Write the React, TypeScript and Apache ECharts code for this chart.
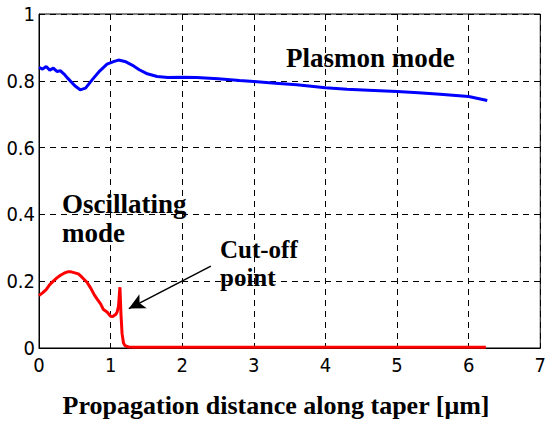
import React, { useEffect, useRef } from "react";
import * as echarts from "echarts";

const xTicks = [0, 1, 2, 3, 4, 5, 6, 7];
const yTicks = [0, 0.2, 0.4, 0.6, 0.8, 1];

const plasmonX = [0, 0.05, 0.1, 0.15, 0.2, 0.25, 0.3, 0.35, 0.4, 0.5, 0.575, 0.65, 0.75, 0.85, 0.95, 1.05, 1.11, 1.2, 1.3, 1.4, 1.5, 1.65, 1.8, 2.0, 2.2, 2.5, 2.8, 3.0, 3.3, 3.6, 4.0, 4.3, 4.6, 5.0, 5.3, 5.6, 6.0, 6.26];
const plasmonY = [0.84, 0.835, 0.843, 0.832, 0.838, 0.828, 0.83, 0.82, 0.808, 0.785, 0.773, 0.778, 0.805, 0.83, 0.85, 0.858, 0.862, 0.858, 0.847, 0.833, 0.822, 0.813, 0.81, 0.811, 0.81, 0.806, 0.801, 0.798, 0.793, 0.788, 0.779, 0.775, 0.772, 0.768, 0.764, 0.76, 0.753, 0.741];

const oscX = [0, 0.05, 0.1, 0.15, 0.2, 0.25, 0.3, 0.35, 0.4, 0.45, 0.5, 0.55, 0.6, 0.67, 0.72, 0.77, 0.81, 0.86, 0.9, 0.95, 1.0, 1.03, 1.07, 1.09, 1.11, 1.13, 1.145, 1.16, 1.18, 1.2, 1.25, 1.35, 2, 3, 4, 5, 6, 6.24];
const oscY = [0.157, 0.165, 0.175, 0.19, 0.2, 0.21, 0.218, 0.224, 0.228, 0.228, 0.225, 0.222, 0.212, 0.197, 0.18, 0.16, 0.147, 0.132, 0.115, 0.108, 0.095, 0.094, 0.1, 0.107, 0.125, 0.182, 0.1, 0.043, 0.015, 0.007, 0.003, 0.002, 0.002, 0.002, 0.002, 0.002, 0.002, 0.002];

const arrowFrom = [2.4, 0.245];
const arrowTo = [1.255, 0.118];

const serif = "'Liberation Serif', 'Times New Roman', serif";
const narrow = "'Liberation Sans Narrow', 'DejaVu Sans Condensed', 'Liberation Sans', sans-serif";

export default function App() {
  const ref = useRef<HTMLDivElement>(null);
  useEffect(() => {
    if (!ref.current) return;
    const chart = echarts.init(ref.current, null, { renderer: "svg" });
    const labelStyle = { color: "#000", fontFamily: narrow, fontSize: 20 };
    const split = { show: true, lineStyle: { color: "#000", width: 1, type: [6, 5] as any } };
    const annot = (text: string, x: number, y: number, fontSize: number, lineHeight: number) => ({
      type: "text",
      x,
      y,
      style: {
        text,
        fill: "#000",
        fontFamily: serif,
        fontWeight: "bold",
        fontSize,
        lineHeight,
        verticalAlign: "top",
        align: "left",
      },
    });
    chart.setOption({
      animation: false,
      backgroundColor: "#fff",
      grid: { left: 39, right: 8, top: 14, bottom: 75, show: true, borderColor: "#000", borderWidth: 1, backgroundColor: "transparent" },
      xAxis: {
        type: "value",
        min: xTicks[0],
        max: xTicks[xTicks.length - 1],
        interval: 1,
        axisLine: { show: true, onZero: false, lineStyle: { color: "#000", width: 1 } },
        axisTick: { show: true, inside: true, length: 5, lineStyle: { color: "#000" } },
        axisLabel: { ...labelStyle, margin: 7 },
        splitLine: split,
      },
      yAxis: {
        type: "value",
        min: yTicks[0],
        max: yTicks[yTicks.length - 1],
        interval: 0.2,
        axisLine: { show: true, onZero: false, lineStyle: { color: "#000", width: 1 } },
        axisTick: { show: true, inside: true, length: 5, lineStyle: { color: "#000" } },
        axisLabel: { ...labelStyle, margin: 4, formatter: (v: number) => String(Math.round(v * 10) / 10) },
        splitLine: split,
      },
      series: [
        {
          name: "Plasmon mode",
          type: "line",
          data: plasmonX.map((x, i) => [x, plasmonY[i]]),
          showSymbol: false,
          symbol: "none",
          lineStyle: { color: "#0000ff", width: 3 },
        },
        {
          name: "Oscillating mode",
          type: "line",
          data: oscX.map((x, i) => [x, oscY[i]]),
          showSymbol: false,
          symbol: "none",
          lineStyle: { color: "#ff0000", width: 3 },
          markLine: {
            silent: true,
            symbol: ["none", "arrow"],
            symbolSize: [12, 16],
            label: { show: false },
            lineStyle: { color: "#000", width: 1.5, type: "solid" },
            data: [[{ coord: arrowFrom }, { coord: arrowTo }]],
          },
        },
      ],
      graphic: [
        annot("Plasmon mode", 286, 44, 27, 28),
        annot("Oscillating\nmode", 62, 189.5, 27, 29),
        annot("Cut-off\npoint", 220, 235, 25, 28),
        {
          type: "text",
          x: 276,
          y: 405,
          style: { text: "Propagation distance along taper [μm]", fill: "#000", font: `bold 26px ${serif}`, verticalAlign: "middle", align: "center" },
        },
      ],
    });
    return () => chart.dispose();
  }, []);
  return <div ref={ref} style={{ position: "fixed", left: 0, top: 0, width: 549, height: 423, background: "#fff" }} />;
}
